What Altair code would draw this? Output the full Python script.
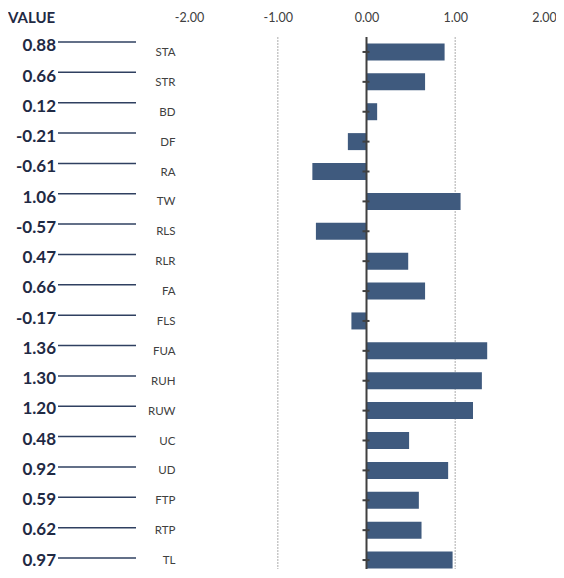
import altair as alt
import pandas as pd

# ---- data ----
header = ["VALUE"]
categories = ["STA", "STR", "BD", "DF", "RA", "TW", "RLS", "RLR", "FA",
              "FLS", "FUA", "RUH", "RUW", "UC", "UD", "FTP", "RTP", "TL"]
values = [0.88, 0.66, 0.12, -0.21, -0.61, 1.06, -0.57, 0.47, 0.66,
          -0.17, 1.36, 1.30, 1.20, 0.48, 0.92, 0.59, 0.62, 0.97]
x_ticks = [-2, -1, 0, 1, 2]
grid_values = [-1, 1]

df = pd.DataFrame({"cat": categories, "val": values,
                   "lbl": [f"{v:.2f}" for v in values]})
grid_df = pd.DataFrame({"g": grid_values})
head_df = pd.DataFrame({"t": header})

W, H = 355, 532          # visible plot height (page bottom)
BAND_H = 538             # row bands run slightly past the visible area
N = len(categories)
STEP = BAND_H / N
FONT = "Lato"
NAVY = "#1f2a44"

x_enc = alt.X(
    "val:Q",
    scale=alt.Scale(domain=[-2, 2], nice=False, zero=False),
    axis=alt.Axis(orient="top", values=x_ticks, grid=False,
                  labelExpr="replace(format(datum.value, '.2f'), '\u2212', '-')",
                  domain=False, ticks=False, labelPadding=13, labelFlush=False,
                  labelFontSize=12.5, labelColor="#404040", labelFont=FONT,
                  title=None),
)

y_band = alt.Y(
    "cat:N",
    scale=alt.Scale(type="band", domain=categories, range=[0, BAND_H],
                    paddingInner=0, paddingOuter=0),
    axis=alt.Axis(title=None, domain=False, ticks=False, labelPadding=14,
                  labelOffset=1, labelFontSize=11.5, labelColor="#404040",
                  labelFont=FONT),
)


def y_point(r0, r1):
    return alt.Y("cat:N",
                 scale=alt.Scale(type="point", domain=categories,
                                 range=[r0, r1], padding=0),
                 axis=None)


base = alt.Chart(df)

grid = alt.Chart(grid_df).mark_rule(color="#c8c8c8", strokeWidth=1.5,
                                    strokeDash=[2, 1]).encode(
    x=alt.X("g:Q"))

bars = base.mark_bar(size=17, color="#3F5A7E").encode(x=x_enc, y=y_band)

zero = alt.Chart(grid_df.head(1)).mark_rule(color="#404040",
                                             strokeWidth=2).encode(
    x=alt.datum(0))

ticks = base.mark_rule(color="#404040", strokeWidth=2, xOffset=-4,
                       x2Offset=3).encode(
    x=alt.datum(0), x2=alt.datum(0),
    y=y_point(STEP / 2, BAND_H - STEP / 2))

val_text = base.mark_text(align="right", baseline="middle", fontSize=17,
                          fontWeight="bold", font=FONT, color=NAVY).encode(
    x=alt.value(-133),
    y=y_point(9.4, 523.5),
    text="lbl:N")

val_lines = base.mark_rule(color="#2f4060", strokeWidth=1.5).encode(
    x=alt.value(-131), x2=alt.value(-53),
    y=y_point(5.0, 521.0))

head = alt.Chart(head_df).mark_text(align="left", baseline="middle",
                                    fontSize=15, fontWeight="bold",
                                    font=FONT, color=NAVY).encode(
    x=alt.value(-181), y=alt.value(-19.5), text="t:N")

chart = alt.layer(grid, bars, zero, ticks, val_text, val_lines, head).resolve_scale(
    y="independent"
).properties(
    width=W, height=H,
    autosize=alt.AutoSizeParams(type="none"),
    padding={"left": 181, "top": 29, "right": 12, "bottom": 0},
).configure_view(stroke=None)

chart.save("out.html", embed_options={"renderer": "svg", "actions": False})
